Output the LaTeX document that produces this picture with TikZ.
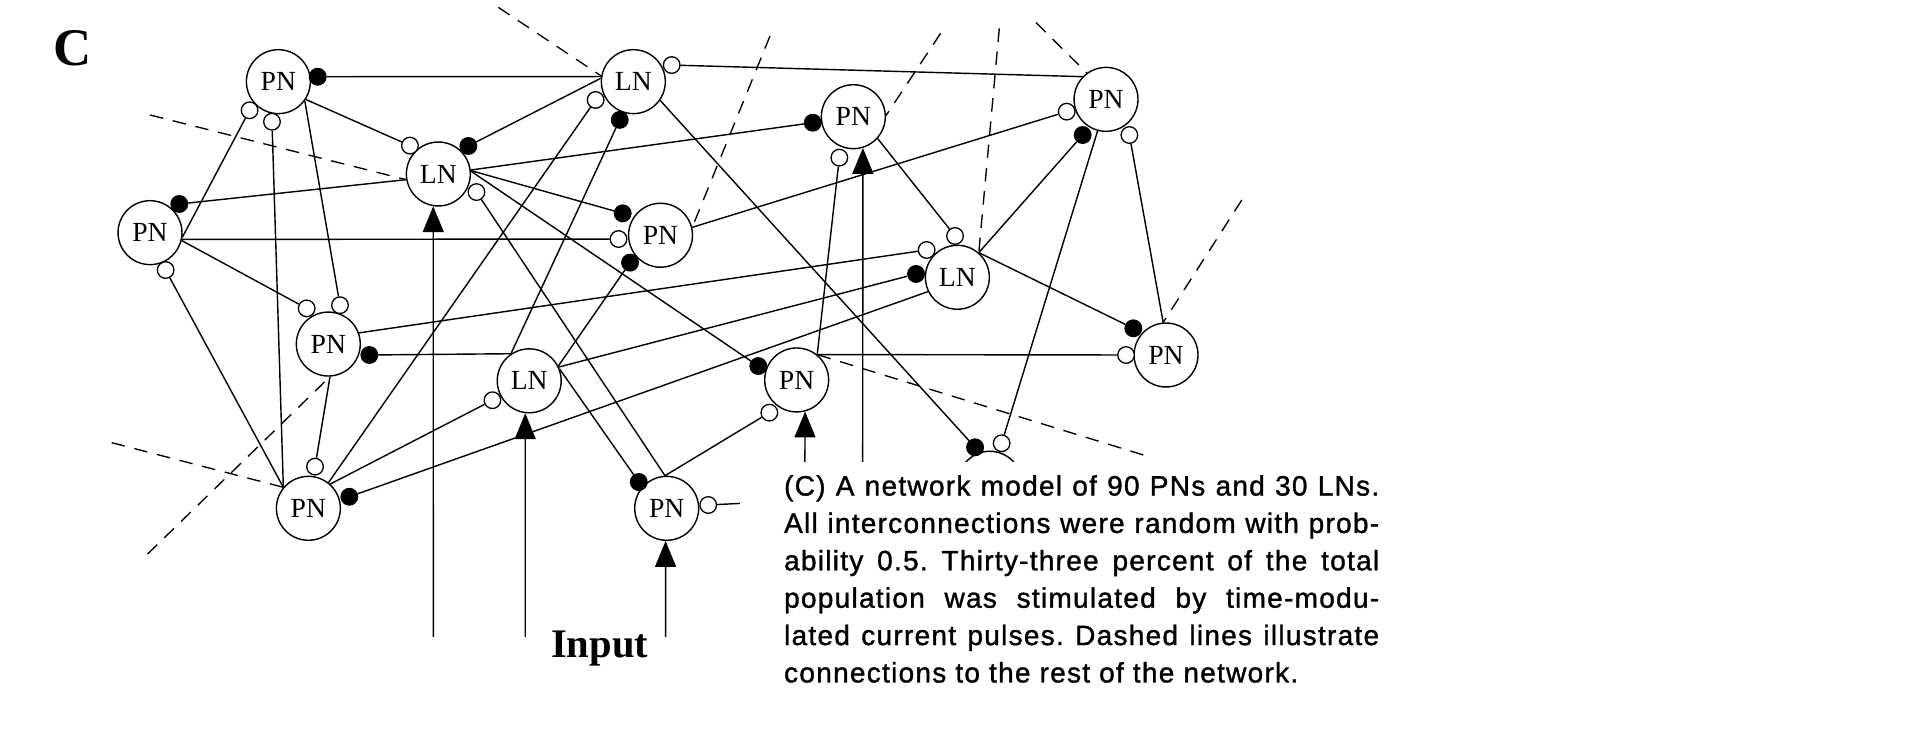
\documentclass[tikz,border=0pt]{standalone}
\usepackage{fontspec}
\setmainfont{Liberation Serif}
\newfontfamily\capfont[LetterSpace=4.5,FakeBold=1.2]{Liberation Sans}
\usetikzlibrary{arrows.meta}
\begin{document}
\begin{tikzpicture}[x=1pt,y=-1pt,
  neuron/.style={circle,draw,line width=1.15pt,minimum size=52pt,inner sep=0pt,fill=white,font=\fontsize{22.5}{22.5}\selectfont},
  odot/.style={circle,draw,fill=white,line width=1.05pt,minimum size=13.5pt,inner sep=0pt},
  fdot/.style={circle,draw,fill=black,line width=1.05pt,minimum size=13.5pt,inner sep=0pt},
  conn/.style={line width=1.15pt},
  dline/.style={line width=1.1pt,dash pattern=on 11pt off 8pt},
  inarrow/.style={line width=1.15pt,-{Triangle[length=21pt,width=17pt]}}
]
\useasboundingbox[fill=white] (0,0) rectangle (1568,595);

% neurons
\node[neuron] (PN1) at (226.4,66.4) {PN};
\node[neuron] (LN1) at (515.1,66.4) {LN};
\node[neuron] (LN2) at (356.5,141.5) {LN};
\node[neuron] (PN2) at (694,94.9) {PN};
\node[neuron] (PN3) at (899.5,80.8) {PN};
\node[neuron] (PN4) at (122,189.2) {PN};
\node[neuron] (PN5) at (537.2,191.3) {PN};
\node[neuron] (LN3) at (778.6,225.5) {LN};
\node[neuron] (PN6) at (267,279.8) {PN};
\node[neuron] (LN4) at (430.4,309.7) {LN};
\node[neuron] (PN7) at (647.9,309) {PN};
\node[neuron] (PN8) at (948.3,288.7) {PN};
\node[neuron] (PN9) at (250.8,413.4) {PN};
\node[neuron] (PN10) at (542.2,413.4) {PN};
\node[neuron] (O) at (805,393) {};

% synapses
\node[fdot] (dA) at (258.4,62.4) {};
\node[odot] (dB) at (203,89.7) {};
\node[odot] (dC) at (221.2,99) {};
\node[odot] (dD) at (333.4,118.4) {};
\node[fdot] (dE) at (380.9,118.7) {};
\node[odot] (dF) at (387.5,156.2) {};
\node[odot] (dG) at (484.4,81.3) {};
\node[fdot] (dH) at (504,97.5) {};
\node[odot] (dI) at (546.3,52.9) {};
\node[fdot] (dJ) at (661,99.8) {};
\node[odot] (dK) at (682.6,128.2) {};
\node[odot] (dL) at (867.5,90.8) {};
\node[fdot] (dM) at (880.5,109.8) {};
\node[odot] (dN) at (918.5,109.8) {};
\node[fdot] (dP) at (145.8,165.9) {};
\node[odot] (dQ) at (134.7,219.6) {};
\node[fdot] (dR) at (506.4,173.5) {};
\node[odot] (dS) at (503,194.4) {};
\node[fdot] (dT) at (512.4,213.6) {};
\node[odot] (dU) at (776.7,191.9) {};
\node[odot] (dV) at (753.6,203.3) {};
\node[fdot] (dW) at (745,222.8) {};
\node[odot] (dX) at (249.4,250.8) {};
\node[odot] (dY) at (276.5,248.2) {};
\node[fdot] (dZ) at (300.4,288.7) {};
\node[odot] (e1) at (400.5,325.5) {};
\node[fdot] (e2) at (616.7,297.7) {};
\node[odot] (e3) at (625.7,335.6) {};
\node[fdot] (e4) at (921.7,267) {};
\node[odot] (e5) at (915.8,288.7) {};
\node[odot] (e6) at (256.2,379.5) {};
\node[fdot] (e7) at (284.1,404) {};
\node[fdot] (e8) at (519.5,392) {};
\node[odot] (e9) at (576,410.7) {};
\node[fdot] (e10) at (793,363.8) {};
\node[odot] (e11) at (814.6,360.5) {};

% connections
\draw[conn] (LN1.171) -- (dA);
\draw[conn] (PN4.-8) -- (dB);
\draw[conn] (PN9.140) -- (dC);
\draw[conn] (PN1.-33) -- (dD);
\draw[conn] (LN1.174) -- (dE);
\draw[conn] (PN10.93) -- (dF);
\draw[conn] (PN9.52) -- (dG);
\draw[conn] (LN4.124) -- (dH);
\draw[conn] (PN3.136) -- (dI);
\draw[conn] (LN2.7) -- (dJ);
\draw[conn] (PN7.51) -- (dK);
\draw[conn] (PN5.14) -- (dL);
\draw[conn] (LN3.49) -- (dM);
\draw[conn] (PN8.95) -- (dN);
\draw[conn] (LN2.190) -- (dP);
\draw[conn] (PN9.140) -- (dQ);
\draw[conn] (LN2.6) -- (dR);
\draw[conn] (PN4.-12) -- (dS);
\draw[conn] (LN4.27) -- (dT);
\draw[conn] (PN2.-42) -- (dU);
\draw[conn] (PN6.20) -- (dV);
\draw[conn] (LN4.25) -- (dW);
\draw[conn] (PN4.-14) -- (dX);
\draw[conn] (PN1.-36) -- (dY);
\draw[conn] (LN4.124) -- (dZ);
\draw[conn] (PN9.48) -- (e1);
\draw[conn] (LN2.5) -- (e2);
\draw[conn] (PN10.93) -- (e3);
\draw[conn] (LN3.49) -- (e4);
\draw[conn] (PN7.51) -- (e5);
\draw[conn] (PN6.-87) -- (e6);
\draw[conn] (LN3.206) -- (e7);
\draw[conn] (LN4.21) -- (e8);
\coordinate (stub) at (602,409.4);
\draw[conn] (stub) -- (e9);
\draw[conn] (LN1.-35) -- (e10);
\draw[conn] (PN3.-105) -- (e11);

% connections to the rest of the network
\coordinate (x1) at (405.3,6);
\coordinate (x2) at (122,93.5);
\coordinate (x3) at (90.8,360);
\coordinate (x4) at (120,450.6);
\coordinate (x5) at (626.2,29.3);
\coordinate (x6) at (765,27.1);
\coordinate (x7) at (812.7,23);
\coordinate (x8) at (842.6,18.4);
\coordinate (x9) at (1009.9,162.7);
\coordinate (x10) at (929.8,370);
\draw[dline] (x1) -- (LN1.170);
\draw[dline] (x2) -- (LN2.190);
\draw[dline] (x3) -- (PN9.140);
\draw[dline] (x4) -- (PN6.-87);
\draw[dline] (x5) -- (PN5.14);
\draw[dline] (x6) -- (PN2.2);
\draw[dline] (x7) -- (LN3.49);
\draw[dline] (x8) -- (PN3.126);
\draw[dline] (x9) -- (PN8.95);
\draw[dline] (x10) -- (PN7.51);

% inputs
\coordinate (i1) at (352.4,518);
\coordinate (i2) at (427.2,518);
\coordinate (i3) at (541.3,518);
\coordinate (i4) at (654.6,376);
\coordinate (i5) at (701.6,376);
\draw[inarrow] (i1) -- (LN2.-99);
\draw[inarrow] (i2) -- (LN4.-97);
\draw[inarrow] (i3) -- (PN10.-92);
\draw[inarrow] (i4) -- (PN7.-75);
\draw[inarrow] (i5) -- (PN2.-73);

% caption area
\fill[white] (602,376) rectangle (1140,575);
\node[anchor=base west,inner sep=0pt] (cap) at (637.5,403) {\parbox[t]{484pt}{\capfont\fontsize{22.8}{30.4}\selectfont\frenchspacing
\tolerance=10000\hyphenpenalty=10000\exhyphenpenalty=10000\parindent=0pt
(C) A network model of 90 PNs and 30 LNs.\linebreak
All interconnections were random with prob-\linebreak
ability 0.5. Thirty-three percent of the total\linebreak
population was stimulated by time-modu-\linebreak
lated current pulses. Dashed lines illustrate\linebreak
connections to the rest of the network.}};

\node[anchor=base west,inner sep=0pt,font=\bfseries\fontsize{33}{33}\selectfont] (inp) at (448,535) {Input};
\node[anchor=base west,inner sep=0pt,font=\bfseries\fontsize{43}{43}\selectfont] (lbl) at (43,53) {C};
\end{tikzpicture}
\end{document}
